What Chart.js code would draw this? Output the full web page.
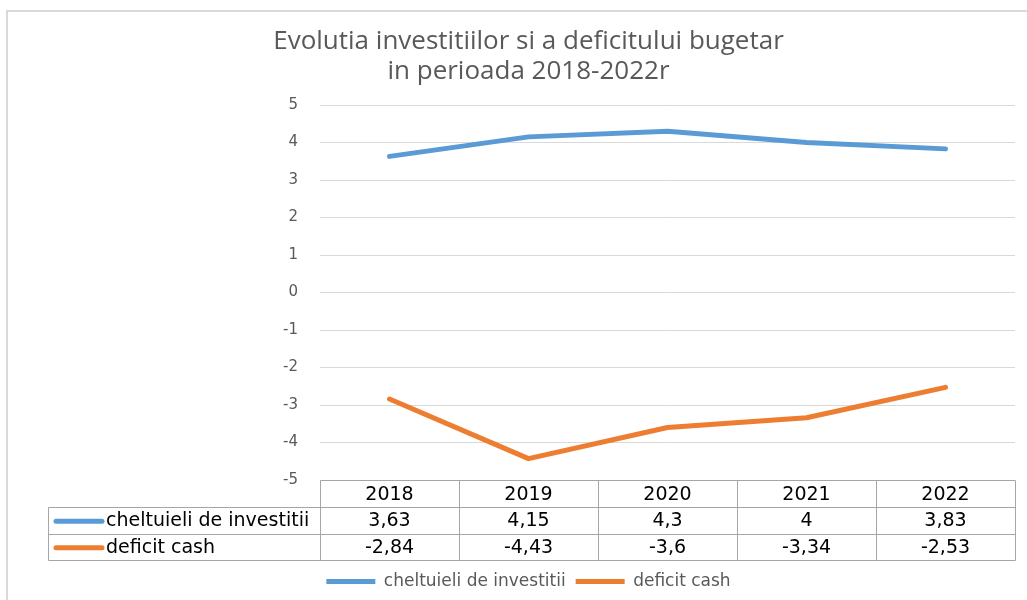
<!DOCTYPE html>
<html>
<head>
<meta charset="utf-8">
<script src="https://cdn.jsdelivr.net/npm/chart.js@4/dist/chart.umd.min.js"></script>
<style>
  html, body { margin: 0; padding: 0; background: #fff; }
</style>
</head>
<body>
<canvas id="lineChart" width="1027" height="600"></canvas>
<script>
// date
const years = ['2018', '2019', '2020', '2021', '2022'];
const investitii = [3.63, 4.15, 4.3, 4, 3.83];
const deficit = [-2.84, -4.43, -3.6, -3.34, -2.53];
const seriesNames = ['cheltuieli de investitii', 'deficit cash'];
const titleLines = ['Evolutia investitiilor si a deficitului bugetar', 'in perioada 2018-2022r'];

const blue = '#5b9bd5';
const orange = '#ed7d31';
const sansFamily = '"DejaVu Sans", Verdana, sans-serif';
const tableFont = '19px ' + sansFamily;

function fmt(v) {
    return String(v).replace('.', ',');
}

// chenarul gri din jurul graficului
const outerBorder = {
    id: 'outerBorder',
    beforeDraw(chart) {
        const ctx = chart.ctx;
        ctx.save();
        ctx.strokeStyle = '#d9d9d9';
        ctx.lineWidth = 2;
        ctx.beginPath();
        ctx.moveTo(7, 600);
        ctx.lineTo(7, 11);
        ctx.lineTo(1027, 11);
        ctx.stroke();
        ctx.restore();
    }
};

// tabelul de date de sub grafic
const dataTable = {
    id: 'dataTable',
    afterDraw(chart) {
        const ctx = chart.ctx;
        const xs = chart.scales.x;
        const area = chart.chartArea;
        const top = Math.round(area.bottom) + 0.5;
        const rowH = 26.5;
        const left = 48.5;
        const right = Math.round(area.right) + 0.5;
        const colW = (area.right - area.left) / years.length;
        const datasets = chart.data.datasets;

        ctx.save();
        ctx.strokeStyle = '#a6a6a6';
        ctx.lineWidth = 1;
        ctx.beginPath();
        // linii orizontale
        ctx.moveTo(Math.round(area.left) + 0.5, top);
        ctx.lineTo(right, top);
        for (let r = 1; r <= datasets.length + 1; r++) {
            const y = Math.round(top + r * rowH) + 0.5;
            ctx.moveTo(left, y);
            ctx.lineTo(right, y);
        }
        const bottom = Math.round(top + (datasets.length + 1) * rowH) + 0.5;
        // linii verticale
        ctx.moveTo(left, Math.round(top + rowH) + 0.5);
        ctx.lineTo(left, bottom);
        for (let c = 0; c <= years.length; c++) {
            const x = Math.round(area.left + c * colW) + 0.5;
            ctx.moveTo(x, top);
            ctx.lineTo(x, bottom);
        }
        ctx.stroke();

        ctx.font = tableFont;
        ctx.fillStyle = '#000';
        ctx.textBaseline = 'middle';
        ctx.textAlign = 'center';
        years.forEach((yr, i) => {
            ctx.fillText(yr, xs.getPixelForValue(i), top + rowH / 2 + 1);
        });

        datasets.forEach((ds, r) => {
            const cy = top + rowH * (r + 1) + rowH / 2 + 1;
            ctx.strokeStyle = ds.borderColor;
            ctx.lineWidth = 5;
            ctx.lineCap = 'round';
            ctx.beginPath();
            ctx.moveTo(56, cy);
            ctx.lineTo(102, cy);
            ctx.stroke();
            ctx.textAlign = 'left';
            ctx.fillText(ds.label, 106, cy);
            ctx.textAlign = 'center';
            ds.data.forEach((v, i) => {
                ctx.fillText(fmt(v), xs.getPixelForValue(i), cy);
            });
        });
        ctx.restore();
    }
};

const ctx = document.getElementById('lineChart').getContext('2d');

const lineChart = new Chart(ctx, {
    type: 'line',
    data: {
        labels: years,
        datasets: [{
            label: seriesNames[0],
            data: investitii,
            borderColor: blue,
            backgroundColor: blue,
            borderWidth: 5,
            borderCapStyle: 'round',
            borderJoinStyle: 'round',
            pointRadius: 0,
            fill: false
        }, {
            label: seriesNames[1],
            data: deficit,
            borderColor: orange,
            backgroundColor: orange,
            borderWidth: 5,
            borderCapStyle: 'round',
            borderJoinStyle: 'round',
            pointRadius: 0,
            fill: false
        }]
    },
    options: {
        responsive: false,
        animation: false,
        layout: {
            padding: { left: 42, right: 12, top: 0, bottom: 0 }
        },
        scales: {
            x: {
                offset: true,
                grid: { display: false },
                border: { display: false },
                ticks: { display: false },
                afterFit(scale) { scale.height = 83; }
            },
            y: {
                min: -5,
                max: 5,
                ticks: {
                    stepSize: 1,
                    padding: 22,
                    color: '#595959',
                    font: { family: sansFamily, size: 15 }
                },
                grid: { color: '#d9d9d9', lineWidth: 1, drawTicks: false },
                border: { display: false },
                afterFit(scale) { scale.width = 320 - 42; }
            }
        },
        plugins: {
            title: {
                display: true,
                text: titleLines,
                color: '#595959',
                font: { family: '"Open Sans"', size: 26, weight: 'normal', lineHeight: 30 / 26 },
                padding: { top: 27, bottom: 18 }
            },
            legend: {
                position: 'bottom',
                labels: {
                    usePointStyle: true,
                    pointStyle: 'line',
                    pointStyleWidth: 49,
                    boxHeight: 5,
                    padding: 10,
                    color: '#595959',
                    font: { family: sansFamily, size: 17 }
                }
            },
            tooltip: { enabled: false }
        }
    },
    plugins: [outerBorder, dataTable]
});
</script>
</body>
</html>
